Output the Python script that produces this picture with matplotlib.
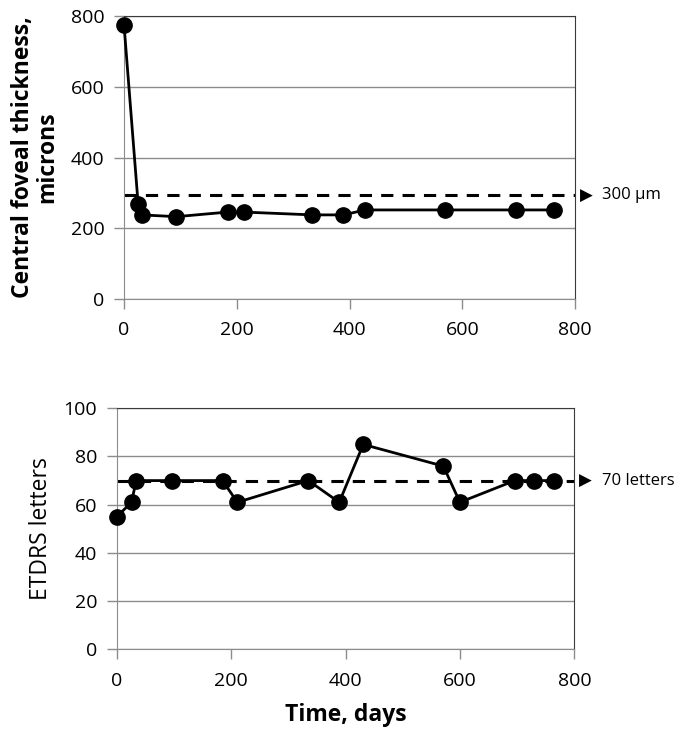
import matplotlib.pyplot as plt

plt.rcParams['font.family'] = ['Open Sans', 'DejaVu Sans']

# central foveal thickness (microns) vs time (days)
cft_days = [0, 25, 31, 93, 184, 212, 334, 389, 428, 570, 696, 763]
cft_microns = [775, 269, 238, 233, 246, 246, 238, 238, 252, 252, 252, 252]
cft_threshold = 293

# visual acuity (ETDRS letters) vs time (days)
va_days = [0, 26, 34, 96, 185, 211, 335, 389, 431, 571, 600, 696, 729, 764]
va_letters = [55, 61, 70, 70, 70, 61, 70, 61, 85, 76, 61, 70, 70, 70]
va_threshold = 70

x_ticks = [0, 200, 400, 600, 800]


def style_axes(ax, yticks):
    ax.set_xlim(0, 800)
    ax.set_ylim(yticks[0], yticks[-1])
    ax.set_xticks(x_ticks)
    ax.set_yticks(yticks)
    ax.grid(axis='y', color='#8c8c8c', linewidth=1.0, zorder=1)
    for side in ['left', 'bottom']:
        ax.spines[side].set_color('#8c8c8c')
    for side in ['top', 'right']:
        ax.spines[side].set_color('#3a3a3a')
    ax.tick_params(axis='both', direction='out', length=7, color='#8c8c8c',
                   labelsize=14, width=1)
    ax.tick_params(axis='x', pad=9)
    ax.tick_params(axis='y', pad=7)


def threshold(ax, y, label):
    ax.axhline(y, color='black', linestyle=(0, (4, 3)), linewidth=2.2, zorder=2)
    ax.text(1.01, y, '\u25B6', transform=ax.get_yaxis_transform(),
            ha='left', va='center', fontsize=12, family='DejaVu Sans')
    ax.text(1.06, y, label, transform=ax.get_yaxis_transform(),
            ha='left', va='center', fontsize=12)


fig = plt.figure(figsize=(6.8, 7.33), dpi=100)

ax1 = fig.add_axes([0.1824, 0.592, 0.8456 - 0.1824, 0.978 - 0.592])
style_axes(ax1, [0, 200, 400, 600, 800])
ax1.plot(cft_days, cft_microns, color='black', marker='o', markersize=11,
         linewidth=2, zorder=3, clip_on=False)
threshold(ax1, cft_threshold, '300 \u00b5m')
ax1.set_ylabel('Central foveal thickness,\nmicrons', fontsize=16.5,
               fontweight='bold', linespacing=1.05, labelpad=8)

ax2 = fig.add_axes([0.1716, 0.1142, 0.8446 - 0.1716, 0.443 - 0.1142])
style_axes(ax2, [0, 20, 40, 60, 80, 100])
ax2.plot(va_days, va_letters, color='black', marker='o', markersize=11,
         linewidth=2, zorder=3, clip_on=False)
threshold(ax2, va_threshold, '70 letters')
ax2.set_ylabel('ETDRS letters', fontsize=16.5, labelpad=8)
ax2.set_xlabel('Time, days', fontsize=16.5, fontweight='bold', labelpad=10)

fig.savefig('out.png', dpi=100)
